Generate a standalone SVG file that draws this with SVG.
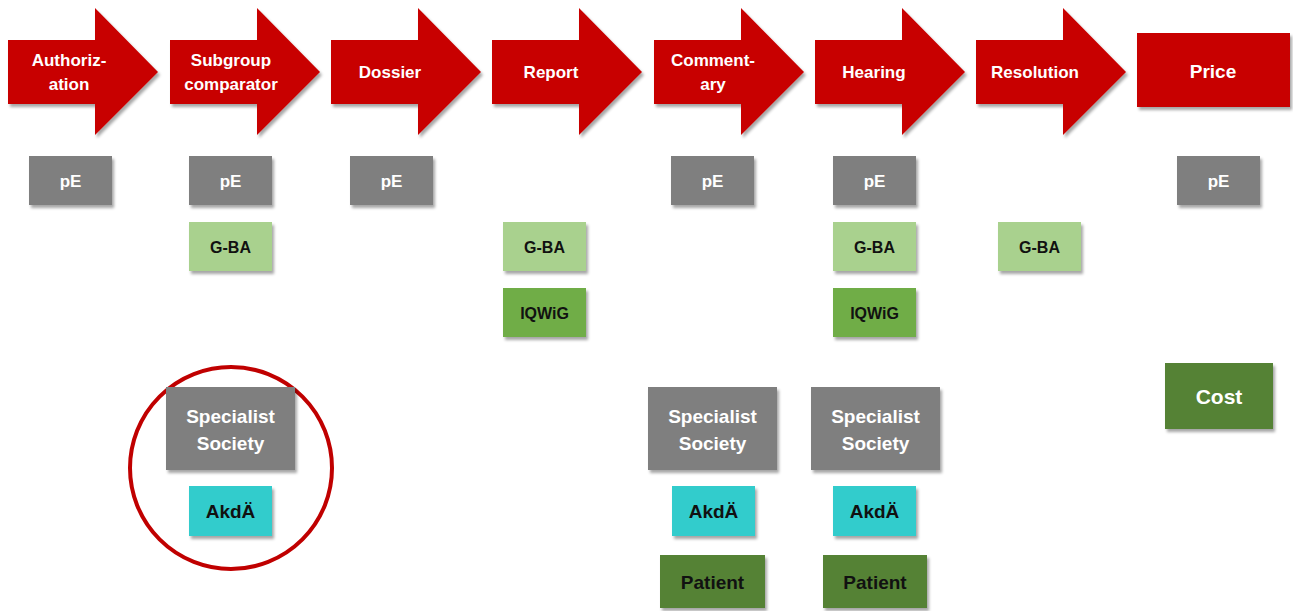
<svg xmlns="http://www.w3.org/2000/svg" width="1293" height="611" viewBox="0 0 1293 611">
<defs>
<filter id="sh" x="-20%" y="-20%" width="150%" height="150%">
<feDropShadow dx="2" dy="3" stdDeviation="1.6" flood-color="#000" flood-opacity="0.35"/>
</filter>
<path id="arr" d="M0,32 H87 V0 L150,64 L87,127 V96 H0 Z"/>
</defs>
<style>
text{font-family:"Liberation Sans",Arial,sans-serif;font-weight:bold;text-anchor:middle;dominant-baseline:central}
.red{fill:#C80000;filter:url(#sh)}
.gray{fill:#7F7F7F;filter:url(#sh)}
.lg{fill:#A9D18E;filter:url(#sh)}
.mg{fill:#70AD47;filter:url(#sh)}
.dg{fill:#548235;filter:url(#sh)}
.cy{fill:#33CCCC;filter:url(#sh)}
.w{fill:#fff}
.k{fill:#111}
.a{font-size:17px}
.s{font-size:16px}
.p{font-size:17px}
.m{font-size:19px}
</style>
<rect width="1293" height="611" fill="#fff"/>
<g id="connectors"></g>
<g id="step-authorization"><use href="#arr" class="red" x="8" y="8"/><text class="w a" x="69" y="60">Authoriz-</text><text class="w a" x="69" y="84">ation</text></g>
<g id="step-subgroup"><use href="#arr" class="red" x="170" y="8"/><text class="w a" x="231" y="60">Subgroup</text><text class="w a" x="231" y="84">comparator</text></g>
<g id="step-dossier"><use href="#arr" class="red" x="331" y="8"/><text class="w a" x="390" y="72">Dossier</text></g>
<g id="step-report"><use href="#arr" class="red" x="492" y="8"/><text class="w a" x="551" y="72">Report</text></g>
<g id="step-commentary"><use href="#arr" class="red" x="654" y="8"/><text class="w a" x="713" y="60">Comment-</text><text class="w a" x="713" y="84">ary</text></g>
<g id="step-hearing"><use href="#arr" class="red" x="815" y="8"/><text class="w a" x="874" y="72">Hearing</text></g>
<g id="step-resolution"><use href="#arr" class="red" x="976" y="8"/><text class="w a" x="1035" y="72">Resolution</text></g>
<g id="step-price"><rect class="red" x="1137" y="33" width="153" height="74"/><text class="w m" x="1213" y="71">Price</text></g>

<g id="pe-1"><rect class="gray" x="29" y="156" width="83" height="49"/><text class="w p" x="70.5" y="181">pE</text></g>
<g id="pe-2"><rect class="gray" x="189" y="156" width="83" height="49"/><text class="w p" x="230.5" y="181">pE</text></g>
<g id="pe-3"><rect class="gray" x="350" y="156" width="83" height="49"/><text class="w p" x="391.5" y="181">pE</text></g>
<g id="pe-5"><rect class="gray" x="671" y="156" width="83" height="49"/><text class="w p" x="712.5" y="181">pE</text></g>
<g id="pe-6"><rect class="gray" x="833" y="156" width="83" height="49"/><text class="w p" x="874.5" y="181">pE</text></g>
<g id="pe-8"><rect class="gray" x="1177" y="156" width="83" height="49"/><text class="w p" x="1218.5" y="181">pE</text></g>

<g id="gba-2"><rect class="lg" x="189" y="222" width="83" height="49"/><text class="k s" x="230.5" y="247">G-BA</text></g>
<g id="gba-4"><rect class="lg" x="503" y="222" width="83" height="49"/><text class="k s" x="544.5" y="247">G-BA</text></g>
<g id="gba-6"><rect class="lg" x="833" y="222" width="83" height="49"/><text class="k s" x="874.5" y="247">G-BA</text></g>
<g id="gba-7"><rect class="lg" x="998" y="222" width="83" height="49"/><text class="k s" x="1039.5" y="247">G-BA</text></g>

<g id="iqwig-4"><rect class="mg" x="503" y="288" width="83" height="49"/><text class="k s" x="544.5" y="313">IQWiG</text></g>
<g id="iqwig-6"><rect class="mg" x="833" y="288" width="83" height="49"/><text class="k s" x="874.5" y="313">IQWiG</text></g>

<g id="highlight"><circle cx="231" cy="468" r="101" fill="none" stroke="#C00000" stroke-width="4"/></g>

<g id="spec-2"><rect class="gray" x="166" y="387" width="129" height="83"/><text class="w m" x="230.5" y="416">Specialist</text><text class="w m" x="230.5" y="443">Society</text></g>
<g id="spec-5"><rect class="gray" x="648" y="387" width="129" height="83"/><text class="w m" x="712.5" y="416">Specialist</text><text class="w m" x="712.5" y="443">Society</text></g>
<g id="spec-6"><rect class="gray" x="811" y="387" width="129" height="83"/><text class="w m" x="875.5" y="416">Specialist</text><text class="w m" x="875.5" y="443">Society</text></g>

<g id="akda-2"><rect class="cy" x="189" y="486" width="83" height="50"/><text class="k m" x="230.5" y="511">AkdÄ</text></g>
<g id="akda-5"><rect class="cy" x="672" y="486" width="83" height="50"/><text class="k m" x="713.5" y="511">AkdÄ</text></g>
<g id="akda-6"><rect class="cy" x="833" y="486" width="83" height="50"/><text class="k m" x="874.5" y="511">AkdÄ</text></g>

<g id="patient-5"><rect class="dg" x="660" y="555" width="105" height="53"/><text class="k m" x="712.5" y="582">Patient</text></g>
<g id="patient-6"><rect class="dg" x="823" y="555" width="104" height="53"/><text class="k m" x="875" y="582">Patient</text></g>

<g id="cost"><rect class="dg" x="1165" y="363" width="108" height="66"/><text class="w" style="font-size:21px" x="1219" y="396">Cost</text></g>
</svg>
